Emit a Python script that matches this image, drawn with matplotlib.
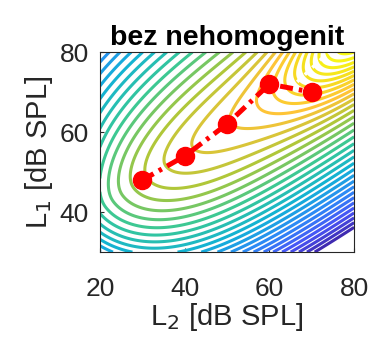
import numpy as np
import matplotlib
matplotlib.use("Agg")
import matplotlib.pyplot as plt
from matplotlib.colors import LinearSegmentedColormap

plt.rcParams['font.family'] = ['Liberation Sans', 'DejaVu Sans']

# optimal path (red)
L2_opt = [30, 40, 50, 60, 70]
L1_opt = [48, 54, 62, 72, 70]

# white dotted segment, visible only over the contours
L2_white = [63, 74]
L1_white = [69, 80]

# surface model parameters (curved ridge + peak in the top right)
ridge_x0, ridge_y0 = 28.0, 46.0
ridge_angle = np.deg2rad(36)
rise = 4.5
rise_len = 16.0
q_up, p_up = 0.306, 1.13
q_down, p_down = 0.0475, 1.7
ridge_flat = 36.0
peak_L2, peak_L1 = 84.0, 88.0
peak_angle = np.deg2rad(45)
peak_len, peak_wid = 16.0, 7.0
peak_amp = 11.0
level_lo, level_hi = -19, 14
color_lo, color_hi = -19.5, 13.0

parula = LinearSegmentedColormap.from_list('parula', [
    (0.2422, 0.1504, 0.6603), (0.2810, 0.3228, 0.9579),
    (0.1786, 0.5289, 0.9682), (0.0689, 0.6948, 0.8394),
    (0.2161, 0.7843, 0.5923), (0.6720, 0.7793, 0.2227),
    (0.9970, 0.7659, 0.2199), (0.9598, 0.8751, 0.1187),
    (0.9769, 0.9839, 0.0805)])

x = np.linspace(20, 80, 400)
y = np.linspace(30, 80, 400)
X, Y = np.meshgrid(x, y)
u = (X - ridge_x0) * np.cos(ridge_angle) + (Y - ridge_y0) * np.sin(ridge_angle)
v = -(X - ridge_x0) * np.sin(ridge_angle) + (Y - ridge_y0) * np.cos(ridge_angle)
up_side = q_up * ((v**2 + ridge_flat)**(p_up / 2) - ridge_flat**(p_up / 2))
down_side = q_down * ((v**2 + ridge_flat)**(p_down / 2) - ridge_flat**(p_down / 2))
Z = rise * (1 - np.exp(-u / rise_len)) - np.where(v > 0, up_side, down_side)
pu = (X - peak_L2) * np.cos(peak_angle) + (Y - peak_L1) * np.sin(peak_angle)
pv = -(X - peak_L2) * np.sin(peak_angle) + (Y - peak_L1) * np.cos(peak_angle)
Z += peak_amp * np.exp(-pu**2 / (2 * peak_len**2) - pv**2 / (2 * peak_wid**2))

fig = plt.figure(figsize=(3.7, 3.43), dpi=100)
ax = fig.add_axes([0.270, 0.265, 0.687, 0.583])
ax.contour(X, Y, Z, levels=np.arange(level_lo, level_hi + 1), cmap=parula,
           vmin=color_lo, vmax=color_hi, linewidths=2.2)
ax.plot(L2_white, L1_white, color='white', lw=2.5, dashes=[1, 2])
ax.plot(L2_opt, L1_opt, color='red', lw=3.6, dashes=[2.6, 1.2, 0.7, 1.2],
        marker='o', ms=13)

ax.set_xlim(20, 80)
ax.set_ylim(30, 80)
ax.set_xticks([20, 40, 60, 80])
ax.set_yticks([40, 60, 80])
ax.tick_params(direction='in', length=3, labelsize=19, colors='#262626', pad=8)
ax.tick_params(axis='x', pad=18)
for s in ax.spines.values():
    s.set_color('#262626')
ax.set_xlabel('L$_2$ [dB SPL]', fontsize=21, color='#262626', labelpad=0)
ax.set_ylabel('L$_1$ [dB SPL]', fontsize=21, color='#262626', labelpad=3)
ax.set_title('bez nehomogenit', fontsize=20.5, fontweight='bold', pad=5)

fig.savefig('out.png', dpi=100)
